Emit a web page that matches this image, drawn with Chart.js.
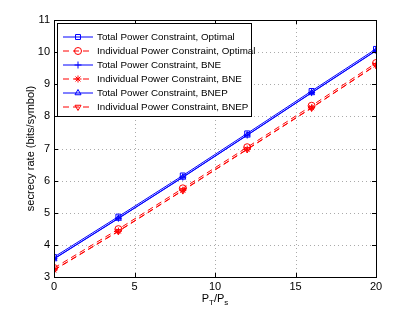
<!DOCTYPE html>
<html><head><meta charset="utf-8">
<script src="https://cdn.jsdelivr.net/npm/chart.js@4/dist/chart.umd.min.js"></script>
<style>html,body{margin:0;padding:0;background:#fff}#w{width:415px;height:312px}</style>
</head><body><div id="w"><canvas id="c"></canvas></div>
<script>
const xValues = [0, 4, 8, 12, 16, 20];
const totalOptimal = [3.62, 4.88, 6.16, 7.47, 8.79, 10.10];
const indivOptimal = [3.28, 4.49, 5.76, 7.04, 8.33, 9.66];
const totalBNE = [3.57, 4.83, 6.11, 7.42, 8.74, 10.05];
const indivBNE = [3.22, 4.43, 5.70, 6.98, 8.27, 9.60];
const totalBNEP = [3.56, 4.82, 6.10, 7.41, 8.73, 10.04];
const indivBNEP = [3.21, 4.42, 5.69, 6.97, 8.26, 9.59];
const seriesNames = ['Total Power Constraint, Optimal','Individual Power Constraint, Optimal','Total Power Constraint, BNE','Individual Power Constraint, BNE','Total Power Constraint, BNEP','Individual Power Constraint, BNEP'];
const yTitle = 'secrecy rate (bits/symbol)';

const FONT = '"Liberation Sans", Arial, sans-serif';
const BLUE = '#0000ff', RED = '#ff0000';
function ds(name, vals, color, dashed, style, rot) {
  return {label: name, data: vals.map((v,i)=>({x:xValues[i], y:v})), borderColor: color, backgroundColor: 'rgba(0,0,0,0)',
    borderWidth: 1, borderDash: dashed ? [6,4] : [], pointStyle: style, pointRotation: rot||0, pointRadius: 3.5,
    pointBorderColor: color, pointBorderWidth: 1, pointBackgroundColor: 'rgba(0,0,0,0)', tension: 0, fill: false};
}
const datasets = [
  ds(seriesNames[0], totalOptimal, BLUE, false, 'rect'),
  ds(seriesNames[1], indivOptimal, RED, true, 'circle'),
  ds(seriesNames[2], totalBNE, BLUE, false, 'cross'),
  ds(seriesNames[3], indivBNE, RED, true, 'star'),
  ds(seriesNames[4], totalBNEP, BLUE, false, 'triangle'),
  ds(seriesNames[5], indivBNEP, RED, true, 'triangle', 180),
];

const grid = {
  id: 'dotgrid',
  beforeDatasetsDraw(chart) {
    const ctx = chart.ctx, a = chart.chartArea, xs = chart.scales.x, ys = chart.scales.y;
    ctx.save();
    ctx.strokeStyle = '#aaa'; ctx.lineWidth = 1; ctx.setLineDash([1, 3]);
    ctx.beginPath();
    xs.ticks.forEach(t => { const px = Math.round(xs.getPixelForValue(t.value)) + 0.5;
      ctx.moveTo(px, a.bottom); ctx.lineTo(px, a.top); });
    ys.ticks.forEach(t => { const py = Math.round(ys.getPixelForValue(t.value)) + 0.5;
      ctx.moveTo(a.left, py); ctx.lineTo(a.right, py); });
    ctx.stroke();
    ctx.restore();
  }
};

const decor = {
  id: 'decor',
  afterDatasetsDraw(chart) {
    const ctx = chart.ctx, a = chart.chartArea, xs = chart.scales.x, ys = chart.scales.y;
    ctx.save();
    ctx.strokeStyle = '#000'; ctx.lineWidth = 1; ctx.setLineDash([]);
    ctx.beginPath();
    xs.ticks.forEach(t => { const px = Math.round(xs.getPixelForValue(t.value)) + 0.5;
      ctx.moveTo(px, a.bottom); ctx.lineTo(px, a.bottom - 4); ctx.moveTo(px, a.top); ctx.lineTo(px, a.top + 4); });
    ys.ticks.forEach(t => { const py = Math.round(ys.getPixelForValue(t.value)) + 0.5;
      ctx.moveTo(a.left, py); ctx.lineTo(a.left + 4, py); ctx.moveTo(a.right, py); ctx.lineTo(a.right - 4, py); });
    ctx.stroke();
    ctx.strokeRect(Math.round(a.left)+0.5, Math.round(a.top)+0.5, Math.round(a.right-a.left), Math.round(a.bottom-a.top));
    // legend
    ctx.font = '9.8px ' + FONT;
    const lx = a.left + 3, ly = a.top + 3, lw = 194, lh = 93;
    ctx.fillStyle = '#fff'; ctx.fillRect(lx, ly, lw, lh);
    ctx.strokeStyle = '#000'; ctx.strokeRect(lx + 0.5, ly + 0.5, lw, lh);
    ctx.textBaseline = 'middle'; ctx.textAlign = 'left';
    datasets.forEach((d, i) => {
      const y = Math.round(ly + 14 + i * 13.9);
      ctx.save();
      ctx.strokeStyle = d.borderColor; ctx.lineWidth = 1; ctx.setLineDash(d.borderDash);
      ctx.beginPath(); ctx.moveTo(lx + 6, y); ctx.lineTo(lx + 36, y); ctx.stroke();
      ctx.setLineDash([]);
      ctx.fillStyle = 'rgba(0,0,0,0)';
      Chart.helpers.drawPoint(ctx, {pointStyle: d.pointStyle, rotation: d.pointRotation, radius: 3.5, borderWidth: 1}, lx + 21, y);
      ctx.restore();
      ctx.fillStyle = '#000';
      ctx.fillText(d.label, lx + 40, y + 0.5);
    });
    // x title with subscripts
    const cx = (a.left + a.right) / 2, ty = 302;
    ctx.fillStyle = '#000'; ctx.textBaseline = 'alphabetic';
    const big = '11px ' + FONT, small = '8px ' + FONT;
    const parts = [['P', big, 0], ['T', small, 3], ['/P', big, 0], ['s', small, 3]];
    let tw = 0; parts.forEach(p => { ctx.font = p[1]; tw += ctx.measureText(p[0]).width; });
    let x = cx - tw / 2;
    parts.forEach(p => { ctx.font = p[1]; ctx.fillText(p[0], x, ty + p[2]); x += ctx.measureText(p[0]).width; });
    ctx.restore();
  }
};

new Chart(document.getElementById('c'), {
  type: 'line',
  data: {datasets},
  options: {
    responsive: true, maintainAspectRatio: false, animation: false,
    layout: {padding: {left: 0, right: 39, top: 20, bottom: 0}},
    plugins: {legend: {display: false}, tooltip: {enabled: false}},
    scales: {
      x: {type: 'linear', min: 0, max: 20,
        ticks: {stepSize: 5, color: '#000', font: {family: FONT, size: 11}, padding: 3, maxRotation: 0},
        grid: {display: false, drawTicks: false},
        border: {display: false},
        afterFit(s) { s.height = 35; }},
      y: {type: 'linear', min: 3, max: 11,
        ticks: {stepSize: 1, color: '#000', font: {family: FONT, size: 11}, padding: 4},
        grid: {display: false, drawTicks: false},
        border: {display: false},
        title: {display: true, text: yTitle, color: '#000', font: {family: FONT, size: 11}, padding: {top: 24, bottom: 0}},
        afterFit(s) { s.width = 54; }}
    }
  },
  plugins: [grid, decor]
});
</script></body></html>
